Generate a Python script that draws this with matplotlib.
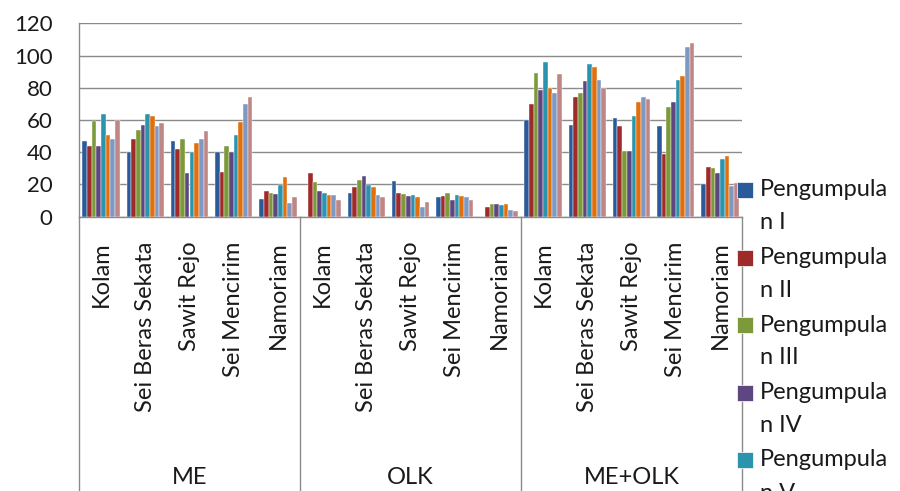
import numpy as np
import matplotlib
matplotlib.use("Agg")
import matplotlib.pyplot as plt
from matplotlib.lines import Line2D

plt.rcParams['font.family'] = ['Lato', 'DejaVu Sans']

# ─── data ─────────────────────────────────────────────────────────────────────
groups = ["ME", "OLK", "ME+OLK"]
sites = ["Kolam", "Sei Beras Sekata", "Sawit Rejo", "Sei Mencirim", "Namoriam"]
series_names = ["Pengumpulan I", "Pengumpulan II", "Pengumpulan III", "Pengumpulan IV",
                "Pengumpulan V", "Pengumpulan VI", "Pengumpulan VII", "Pengumpulan VIII"]

# values per series, ordered ME (5 sites), OLK (5 sites), ME+OLK (5 sites)
p1 = [47, 40, 47, 40, 11,    0, 15, 22, 12, 0,        60, 57, 61, 56, 20]
p2 = [44, 48, 42, 28, 16,    27, 18.5, 15, 13, 6,     70, 74, 56.5, 39, 31]
p3 = [59.5, 54, 48, 44, 15,  21.5, 23, 14, 14.5, 8,   89, 77, 40.5, 68, 30]
p4 = [44, 57, 27, 40, 14,    16, 25, 13, 10.5, 8,     78.5, 84.5, 40.5, 71, 27]
p5 = [64, 64, 40, 51, 19.5,  15, 19.5, 13.5, 13.5, 7, 96, 95, 62.5, 85, 36]
p6 = [51, 62.5, 46, 58.5, 24.5, 13.5, 18.5, 12, 13, 8, 80, 93, 71, 87.5, 37.5]
p7 = [48, 56, 48, 70, 8.5,   13.5, 13.5, 6, 12, 4,    76.5, 85, 74, 105, 19]
p8 = [60, 58, 53, 74, 12.5,  10.5, 12.5, 9, 10.5, 3.5, 88.5, 80, 73, 107.5, 21]
series = [p1, p2, p3, p4, p5, p6, p7, p8]

colors = ["#2b5a9a", "#9e2a2a", "#7c9a3a", "#5e4680",
          "#2a93ad", "#e0700e", "#7e98c4", "#c08585"]

categories = [s for g in groups for s in sites]

# ─── figure ───────────────────────────────────────────────────────────────────
fig = plt.figure(figsize=(9, 4.91), dpi=100)
ax = fig.add_axes([79 / 900, 1 - 216.7 / 491, (742 - 79) / 900, (216.7 - 23.3) / 491])

x = np.arange(len(categories))
n = len(series)
w = 0.85 / n
for i, (vals, col) in enumerate(zip(series, colors)):
    ax.bar(x - 0.425 + w * (i + 0.5), vals, w, color=col,
           edgecolor="#ffffff", linewidth=0.3, zorder=3)

ax.set_xlim(-0.5, len(categories) - 0.5)
ax.set_ylim(0, 120)
ax.set_yticks(np.arange(0, 121, 20))
ax.yaxis.grid(True, color="#8a8a8a", linewidth=1.0, zorder=0)
ax.tick_params(axis="y", length=0, pad=19, labelsize=16, labelcolor="#1a1a1a")

ax.set_xticks(x)
ax.set_xticklabels(categories, rotation=90, fontsize=17, color="#1a1a1a")
ax.tick_params(axis="x", length=0, pad=18)

for s in ("top", "right"):
    ax.spines[s].set_visible(False)
for s in ("left", "bottom"):
    ax.spines[s].set_color("#8a8a8a")
    ax.spines[s].set_linewidth(1.0)

# group separators and group labels below the axis
xt = ax.get_xaxis_transform()
for b in [-0.5, 4.5, 9.5, 14.5]:
    ax.plot([b, b], [0, -1.5], transform=xt, color="#8a8a8a", lw=1.0, clip_on=False)
for k, g in enumerate(groups):
    ax.text(k * 5 + 2, -1.35, g, transform=xt, ha="center", va="center",
            fontsize=17, color="#1a1a1a")

# legend, wrapped like the original; entries beyond the bottom edge are not visible
for i, (name, col) in enumerate(zip(series_names, colors)):
    y0 = 1 - (190 + i * 67.5) / 491
    if y0 < 0:
        continue
    fig.add_artist(Line2D([744.5 / 900], [y0], marker="s", markersize=11,
                          color=col, markeredgecolor="#ffffff",
                          markeredgewidth=0.5, transform=fig.transFigure))
    fig.text(760 / 900, y0, name[:10], ha="left", va="center", fontsize=17, color="#1a1a1a")
    fig.text(760 / 900, y0 - 33 / 491, name[10:], ha="left", va="center",
             fontsize=17, color="#1a1a1a")

fig.savefig("out.png", dpi=100)
